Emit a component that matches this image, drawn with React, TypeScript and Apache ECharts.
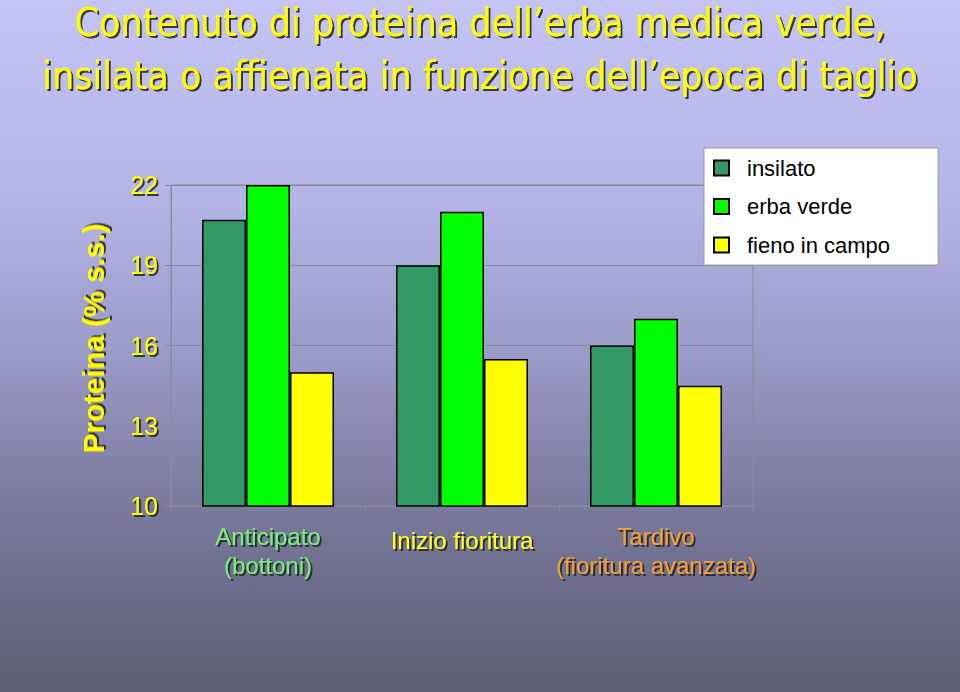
import React, { useEffect, useRef } from "react";
import * as echarts from "echarts";

const titleLines = [
  "Contenuto di proteina dell\u2019erba medica verde,",
  "insilata o affienata in funzione dell\u2019epoca di taglio",
];
const categories = ["Anticipato\n(bottoni)", "Inizio fioritura", "Tardivo\n(fioritura avanzata)"];
const categoryKeys = ["g", "y", "o"];
const seriesNames = ["insilato", "erba verde", "fieno in campo"];
const seriesColors = ["#339966", "#00ff00", "#ffff00"];
const insilato = [20.7, 19, 16];
const erbaVerde = [22, 21, 17];
const fienoInCampo = [15, 15.5, 14.5];
const yName = "Proteina (% s.s.)";
const yMin = 10;
const yMax = 22;
const yInterval = 3;

const shadow = {
  textShadowColor: "rgba(30,30,40,0.85)",
  textShadowOffsetX: 2,
  textShadowOffsetY: 2,
  textShadowBlur: 1,
};

export default function App() {
  const ref = useRef<HTMLDivElement>(null);
  useEffect(() => {
    if (!ref.current) return;
    const chart = echarts.init(ref.current, undefined, { renderer: "svg" });
    const values = [insilato, erbaVerde, fienoInCampo];
    chart.setOption({
      animation: false,
      backgroundColor: new echarts.graphic.LinearGradient(0, 0, 0, 1, [
        { offset: 0, color: "#c4c4f5" },
        { offset: 0.3, color: "#b3b3e6" },
        { offset: 0.5, color: "#9c9cca" },
        { offset: 0.72, color: "#7b7b9f" },
        { offset: 0.87, color: "#6a6a88" },
        { offset: 1, color: "#5d5d73" },
      ]),
      title: {
        text: titleLines.join("\n"),
        left: "center",
        top: -4,
        padding: 0,
        textStyle: {
          fontFamily: "DejaVu Sans Condensed, sans-serif",
          fontWeight: "normal",
          fontSize: 39,
          lineHeight: 53,
          color: "#ffff00",
          ...shadow,
        },
      },
      legend: {
        orient: "vertical",
        left: 704,
        top: 148,
        padding: [9, 48, 9, 9],
        backgroundColor: "#ffffff",
        borderColor: "#9a9a9a",
        borderWidth: 1,
        borderRadius: 0,
        itemWidth: 15,
        itemHeight: 15,
        itemGap: 16.5,
        icon: "rect",
        textStyle: {
          fontFamily: "Liberation Sans, Arial, sans-serif",
          fontSize: 22,
          lineHeight: 22,
          color: "#000000",
          padding: [0, 0, 0, 13],
        },
        data: seriesNames,
      },
      grid: {
        left: 171,
        right: 207,
        top: 185,
        bottom: 186,
        show: true,
        borderColor: "#8a8a9a",
        borderWidth: 1,
        backgroundColor: "transparent",
      },
      xAxis: {
        type: "category",
        data: categories,
        axisLine: { show: true, lineStyle: { color: "#8a8a9a", width: 1 } },
        axisTick: { show: true, length: 5, lineStyle: { color: "#8a8a9a" } },
        axisLabel: {
          interval: 0,
          margin: 16,
          fontFamily: "Liberation Sans, Arial, sans-serif",
          fontSize: 24,
          formatter: (v: string, i: number) =>
            v
              .split("\n")
              .map((l) => `{${categoryKeys[i]}|${l}}`)
              .join("\n"),
          rich: {
            g: { color: "#77f077", fontFamily: "Liberation Sans, Arial, sans-serif", fontSize: 24, lineHeight: 29, ...shadow },
            y: { color: "#ffff22", fontFamily: "Liberation Sans, Arial, sans-serif", fontSize: 24, lineHeight: 37, ...shadow },
            o: { color: "#f5a030", fontFamily: "Liberation Sans, Arial, sans-serif", fontSize: 24, lineHeight: 29, ...shadow },
          },
        },
      },
      yAxis: {
        type: "value",
        min: yMin,
        max: yMax,
        interval: yInterval,
        name: yName,
        nameLocation: "middle",
        nameGap: 63,
        nameRotate: 90,
        nameTextStyle: {
          fontFamily: "Liberation Sans, Arial, sans-serif",
          fontWeight: "bold",
          fontSize: 29.5,
          color: "#ffff00",
          padding: [0, 0, 0, 14],
          ...shadow,
        },
        axisLine: { show: true, lineStyle: { color: "#8a8a9a", width: 1 } },
        axisTick: { show: true, length: 6, lineStyle: { color: "#8a8a9a" } },
        splitLine: { show: true, lineStyle: { color: "#8a8a9a", width: 1 } },
        axisLabel: {
          margin: 13,
          fontFamily: "Liberation Sans, Arial, sans-serif",
          fontSize: 25,
          color: "#ffff00",
          ...shadow,
        },
      },
      series: seriesNames.map((name, i) => ({
        name,
        type: "bar",
        data: values[i],
        barWidth: 44,
        barGap: "0%",
        itemStyle: { color: seriesColors[i], borderColor: "#000000", borderWidth: 1.5 },
      })),
    });
    return () => chart.dispose();
  }, []);
  return (
    <div
      ref={ref}
      style={{ position: "fixed", left: 0, top: 0, width: 960, height: 692 }}
    />
  );
}
